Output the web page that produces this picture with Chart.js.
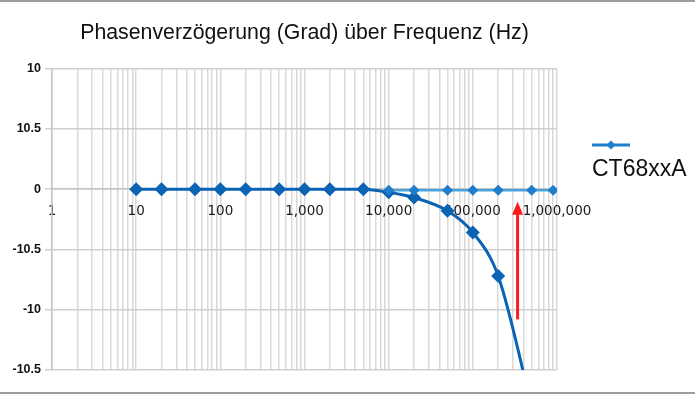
<!DOCTYPE html>
<html>
<head>
<meta charset="utf-8">
<script src="https://cdn.jsdelivr.net/npm/chart.js@4.4.1/dist/chart.umd.min.js"></script>
<style>
    html, body { margin: 0; padding: 0; background: #ffffff; }
    #wrap { width: 695px; height: 395px; }
</style>
</head>
<body>
<div id="wrap"><canvas id="phaseChart" width="695" height="395"></canvas></div>
<script>
// values
var seriesName = 'CT68xxA';
var mainFreq = [10, 20, 50, 100, 200, 500, 1000, 2000, 5000, 10000, 20000, 50000, 100000, 200000, 500000];
var mainPhase = [0, 0, 0, 0, 0, 0, 0, 0, 0, -0.25, -0.7, -1.8, -3.6, -7.2, -18];
var flatFreq = [10000, 20000, 50000, 100000, 200000, 500000, 900000];
var flatPhase = [-0.1, -0.1, -0.1, -0.1, -0.1, -0.1, -0.1];

var xDecades = [1, 10, 100, 1000, 10000, 100000, 1000000];
var xTickLabels = ['1', '10', '100', '1,000', '10,000', '100,000', '1,000,000'];
var yTickValues = [10, 5, 0, -5, -10, -15];
var yTickLabels = ['10', '10.5', '0', '-10.5', '-10', '-10.5'];

// red arrow in the picture (frequency, from phase, to phase)
var arrowFreq = 340000;
var arrowFrom = -10.8;
var arrowTo = -1.05;

document.addEventListener('DOMContentLoaded', function() {
    var darkBlue = '#0b63b3';
    var lightBlue = '#4aa3de';
    var lightMarker = '#1f7ecb';
    var legendBlue = '#1f7fcf';

    // gridlines at 1..9 of every decade
    var xGrid = [];
    for (var d = 0; d < 6; d++) {
        for (var k = 1; k < 10; k++) {
            xGrid.push(k * Math.pow(10, d));
        }
    }
    xGrid.push(1000000);

    function toPoints(xs, ys) {
        return xs.map(function(x, i) { return { x: x, y: ys[i] }; });
    }

    var extras = {
        id: 'extras',
        afterDatasetsDraw: function(chart) {
            var ctx = chart.ctx;
            var xs = chart.scales.x;
            var ys = chart.scales.y;

            // arrow
            var ax = xs.getPixelForValue(arrowFreq);
            var y1 = ys.getPixelForValue(arrowFrom);
            var y2 = ys.getPixelForValue(arrowTo);
            ctx.save();
            ctx.strokeStyle = '#ff1a1a';
            ctx.fillStyle = '#ff1a1a';
            ctx.lineWidth = 3;
            ctx.beginPath();
            ctx.moveTo(ax, y1);
            ctx.lineTo(ax, y2 + 10);
            ctx.stroke();
            ctx.beginPath();
            ctx.moveTo(ax, y2);
            ctx.lineTo(ax - 5.5, y2 + 13);
            ctx.lineTo(ax + 5.5, y2 + 13);
            ctx.closePath();
            ctx.fill();
            ctx.restore();
        },
        afterDraw: function(chart) {
            var ctx = chart.ctx;
            ctx.save();
            // frame lines
            ctx.fillStyle = '#9c9c9c';
            ctx.fillRect(0, 0, 695, 2);
            ctx.fillRect(0, 392, 695, 2);

            // legend
            ctx.strokeStyle = legendBlue;
            ctx.lineWidth = 3;
            ctx.beginPath();
            ctx.moveTo(592, 145);
            ctx.lineTo(630, 145);
            ctx.stroke();
            ctx.fillStyle = legendBlue;
            ctx.beginPath();
            ctx.moveTo(611, 140.5);
            ctx.lineTo(615.5, 145);
            ctx.lineTo(611, 149.5);
            ctx.lineTo(606.5, 145);
            ctx.closePath();
            ctx.fill();
            ctx.fillStyle = '#111111';
            ctx.font = '23px "Liberation Sans", Arial, sans-serif';
            ctx.textBaseline = 'alphabetic';
            ctx.textAlign = 'left';
            ctx.fillText(seriesName, 592, 176);
            ctx.restore();
        }
    };

    var canvas = document.getElementById('phaseChart');
    new Chart(canvas, {
        type: 'line',
        data: {
            datasets: [{
                label: '',
                data: toPoints(flatFreq, flatPhase),
                borderColor: lightBlue,
                backgroundColor: lightMarker,
                borderWidth: 2.5,
                pointStyle: 'rectRot',
                pointRadius: 5.5,
                pointBorderWidth: 0,
                pointBackgroundColor: lightMarker,
                order: 1
            }, {
                label: seriesName,
                data: toPoints(mainFreq, mainPhase),
                borderColor: darkBlue,
                backgroundColor: darkBlue,
                borderWidth: 3,
                pointStyle: 'rectRot',
                pointRadius: 7,
                pointBorderWidth: 0,
                pointBackgroundColor: darkBlue,
                cubicInterpolationMode: 'monotone',
                order: 2
            }]
        },
        options: {
            responsive: false,
            animation: false,
            layout: { padding: { top: 0, left: 0, right: 138, bottom: 25 } },
            plugins: {
                legend: { display: false },
                tooltip: { enabled: false },
                title: {
                    display: true,
                    text: 'Phasenverzögerung (Grad) über Frequenz (Hz)',
                    fullSize: false,
                    color: '#111111',
                    font: { size: 21.3, weight: 'normal', family: "'Liberation Sans', Arial, sans-serif" },
                    padding: { top: 20, bottom: 23 }
                }
            },
            scales: {
                x: {
                    type: 'logarithmic',
                    position: { y: 0 },
                    min: 1,
                    max: 1000000,
                    afterBuildTicks: function(scale) {
                        scale.ticks = xGrid.map(function(v) { return { value: v }; });
                    },
                    ticks: {
                        autoSkip: false,
                        maxRotation: 0,
                        padding: 14,
                        color: '#1a1a1a',
                        font: { size: 13.5, family: "'DejaVu Sans', Verdana, sans-serif" },
                        callback: function(value) {
                            var i = xDecades.indexOf(value);
                            return i >= 0 ? xTickLabels[i] : '';
                        }
                    },
                    grid: { color: '#d9d9d9', lineWidth: 1.5, drawTicks: false },
                    border: { color: '#c4c4c4', width: 1.5 }
                },
                y: {
                    type: 'linear',
                    min: -15,
                    max: 10,
                    afterFit: function(scale) { scale.width = 52; },
                    afterBuildTicks: function(scale) {
                        scale.ticks = yTickValues.slice().reverse().map(function(v) { return { value: v }; });
                    },
                    ticks: {
                        padding: 4,
                        color: '#111111',
                        font: { size: 12.5, weight: 'bold', family: "'Liberation Sans', Arial, sans-serif" },
                        callback: function(value) {
                            var i = yTickValues.indexOf(value);
                            return i >= 0 ? yTickLabels[i] : '';
                        }
                    },
                    grid: { color: '#cfcfcf', lineWidth: 1.5, tickLength: 7 },
                    border: { color: '#c4c4c4', width: 1.5 }
                }
            }
        },
        plugins: [extras]
    });
});
</script>
</body>
</html>
